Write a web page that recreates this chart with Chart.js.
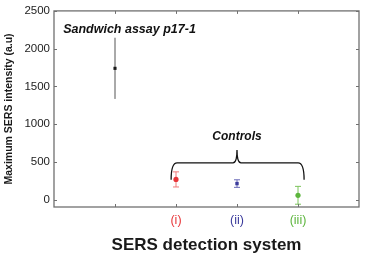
<!DOCTYPE html>
<html>
<head>
<meta charset="utf-8">
<script src="https://cdn.jsdelivr.net/npm/chart.js@4"></script>
<style>
  html, body { margin: 0; padding: 0; background: #fff; }
  #wrap { width: 369px; height: 260px; }
</style>
</head>
<body>
<div id="wrap"><canvas id="myChart" width="369" height="260"></canvas></div>
<script>
// chart data
const categories = ['Sandwich assay p17-1', '(i)', '(ii)', '(iii)'];
const xPositions = [1, 2, 3, 4];
const meanValues = [1740, 270, 215, 60];
const errValues = [405, 100, 50, 118];
const pointColors = ['#1a1a1a', '#e8363a', '#3b3b9c', '#5cb53c'];
const barColors = ['#555555', '#f07a7a', '#6a6ab8', '#7cc45c'];
const yTicks = [0, 500, 1000, 1500, 2000, 2500];
const xTicks = [1, 2, 3, 4];
const xLabels = { 2: '(i)', 3: '(ii)', 4: '(iii)' };
const labelColors = { 2: '#e8363a', 3: '#3b3b9c', 4: '#5cb53c' };

const FONT = '"Liberation Sans", Arial, sans-serif';

// error bars, box with inward ticks and the text notes
const extras = {
    id: 'extras',
    beforeDatasetsDraw(chart) {
        const ctx = chart.ctx;
        const xs = chart.scales.x, ys = chart.scales.y;
        ctx.save();
        meanValues.forEach((m, i) => {
            const px = xs.getPixelForValue(xPositions[i]);
            const top = ys.getPixelForValue(m + errValues[i]);
            const bot = ys.getPixelForValue(m - errValues[i]);
            ctx.strokeStyle = barColors[i];
            ctx.lineWidth = 1;
            ctx.beginPath();
            ctx.moveTo(px, top);
            ctx.lineTo(px, bot);
            if (i > 0) {
                ctx.moveTo(px - 3, top); ctx.lineTo(px + 3, top);
                ctx.moveTo(px - 3, bot); ctx.lineTo(px + 3, bot);
            }
            ctx.stroke();
        });
        ctx.restore();
    },
    afterDraw(chart) {
        const ctx = chart.ctx;
        const a = chart.chartArea;
        const xs = chart.scales.x, ys = chart.scales.y;
        ctx.save();
        // box
        ctx.strokeStyle = '#707070';
        ctx.lineWidth = 1.3;
        ctx.strokeRect(a.left, a.top, a.right - a.left, a.bottom - a.top);
        // inward ticks
        ctx.lineWidth = 1;
        ctx.beginPath();
        xTicks.forEach(v => {
            const px = Math.round(xs.getPixelForValue(v)) + 0.5;
            ctx.moveTo(px, a.bottom); ctx.lineTo(px, a.bottom - 3);
            ctx.moveTo(px, a.top); ctx.lineTo(px, a.top + 3);
        });
        yTicks.forEach(v => {
            const py = Math.round(ys.getPixelForValue(v)) + 0.5;
            ctx.moveTo(a.left, py); ctx.lineTo(a.left + 3, py);
            ctx.moveTo(a.right, py); ctx.lineTo(a.right - 3, py);
        });
        ctx.stroke();

        // brace over the controls
        const x1 = xs.getPixelForValue(1.92), x2 = xs.getPixelForValue(4.1);
        const xm = xs.getPixelForValue(3);
        const yEnd = ys.getPixelForValue(265);
        const yLine = ys.getPixelForValue(490);
        const yPeak = ys.getPixelForValue(660);
        ctx.strokeStyle = '#111';
        ctx.lineWidth = 1.3;
        ctx.beginPath();
        ctx.moveTo(x1, yEnd);
        ctx.quadraticCurveTo(x1, yLine, x1 + 6, yLine);
        ctx.lineTo(xm - 4, yLine);
        ctx.quadraticCurveTo(xm, yLine, xm, yPeak);
        ctx.quadraticCurveTo(xm, yLine, xm + 4, yLine);
        ctx.lineTo(x2 - 6, yLine);
        ctx.quadraticCurveTo(x2, yLine, x2, yEnd);
        ctx.stroke();

        // notes
        ctx.fillStyle = '#111';
        ctx.font = 'italic bold 12.5px ' + FONT;
        ctx.textBaseline = 'middle';
        ctx.textAlign = 'left';
        ctx.fillText(categories[0], xs.getPixelForValue(0.15), ys.getPixelForValue(2255));
        ctx.font = 'italic bold 12px ' + FONT;
        ctx.textAlign = 'center';
        ctx.fillText('Controls', xm, ys.getPixelForValue(835));
        ctx.restore();
    }
};

const ctx = document.getElementById('myChart').getContext('2d');
new Chart(ctx, {
    type: 'scatter',
    data: {
        datasets: [{
            data: xPositions.map((x, i) => ({ x: x, y: meanValues[i] })),
            pointBackgroundColor: pointColors,
            pointBorderColor: pointColors,
            pointStyle: ['rect', 'circle', 'rect', 'circle'],
            pointRadius: [2.2, 2.6, 2.4, 2.6],
            borderWidth: 0
        }]
    },
    options: {
        responsive: false,
        animation: false,
        events: [],
        layout: { padding: { top: 9, right: 10, left: 0, bottom: 0 } },
        plugins: {
            legend: { display: false },
            tooltip: { enabled: false }
        },
        scales: {
            x: {
                type: 'linear',
                min: 0,
                max: 5,
                afterBuildTicks: s => { s.ticks = xTicks.map(v => ({ value: v })); },
                afterFit: s => { s.height = 53; },
                grid: { display: false, drawTicks: false },
                border: { display: false },
                ticks: {
                    padding: 6,
                    autoSkip: false,
                    maxRotation: 0,
                    font: { family: FONT, size: 12.5 },
                    color: c => labelColors[c.tick.value] || '#000',
                    callback: v => xLabels[v] || ''
                },
                title: {
                    display: true,
                    text: 'SERS detection system',
                    color: '#1a1a1a',
                    font: { family: FONT, size: 17, weight: 'bold' },
                    padding: { top: 1, bottom: 4 }
                }
            },
            y: {
                min: -95,
                max: 2500,
                afterBuildTicks: s => { s.ticks = yTicks.map(v => ({ value: v })); },
                afterFit: s => { s.width = 54; },
                grid: { display: false, drawTicks: false },
                border: { display: false },
                ticks: {
                    padding: 4,
                    font: { family: FONT, size: 11.5 },
                    color: '#222',
                    callback: v => String(v)
                },
                title: {
                    display: true,
                    text: 'Maximum SERS intensity (a.u)',
                    color: '#1a1a1a',
                    font: { family: FONT, size: 10.5, weight: 'bold' },
                    padding: { top: 3, bottom: 0 }
                }
            }
        }
    },
    plugins: [extras]
});
</script>
</body>
</html>
